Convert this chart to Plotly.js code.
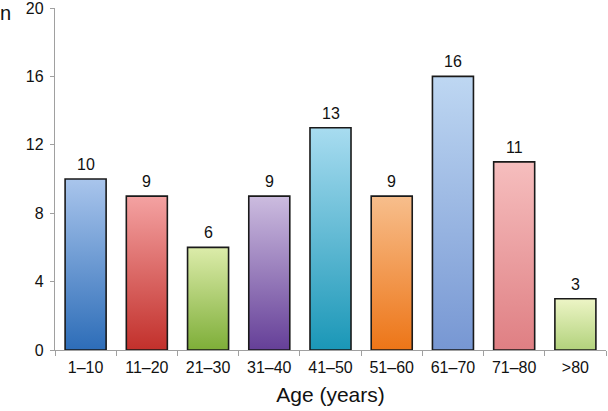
<!DOCTYPE html>
<html>
<head>
<meta charset="utf-8">
<script src="https://cdn.plot.ly/plotly-3.0.1.min.js"></script>
<style>
  html, body { margin: 0; padding: 0; background: #fff; }
  #chart { width: 608px; height: 411px; }
</style>
</head>
<body>
<div id="chart"></div>
<script>
const categories = ['1–10', '11–20', '21–30', '31–40', '41–50', '51–60', '61–70', '71–80', '>80'];
const counts = [10, 9, 6, 9, 13, 9, 16, 11, 3];
const topColors = ['#a9c5ec', '#f4a2a2', '#dcecaa', '#ccbcdf', '#a8dcf0', '#f7be8c', '#bed7f2', '#f6bebe', '#edf5c6'];
const bottomColors = ['#2d6db8', '#c2302b', '#7eae38', '#653f98', '#1a97b7', '#ed7517', '#7797d3', '#df7f83', '#b2d27c'];
const midColors = ['#6a9ad2', '#db6966', '#adcd71', '#997dbc', '#61bad4', '#f29a52', '#9bb7e3', '#eb9fa0', '#d0e4a1'];
const yTicks = [0, 4, 8, 12, 16, 20];

const FONT = 'Liberation Sans, Arial, Helvetica, sans-serif';

const trace = {
  type: 'bar',
  x: categories,
  y: counts,
  marker: {
    color: midColors,
    line: { color: '#1a1a1a', width: 1.6 }
  },
  hoverinfo: 'none'
};

const valueLabels = categories.map((c, i) => ({
  x: c,
  y: counts[i],
  xref: 'x', yref: 'y',
  text: String(counts[i]),
  showarrow: false,
  xanchor: 'center', yanchor: 'bottom',
  yshift: 4,
  font: { family: FONT, size: 16, color: '#111' }
}));

const layout = {
  width: 608,
  height: 411,
  margin: { l: 55, r: 2, t: 8, b: 61 },
  paper_bgcolor: '#fff',
  plot_bgcolor: '#fff',
  bargap: 0.33,
  showlegend: false,
  font: { family: FONT, size: 16, color: '#111' },
  xaxis: {
    type: 'category',
    showline: true,
    linecolor: '#a0a0a0',
    linewidth: 1.2,
    ticks: 'outside',
    tickson: 'boundaries',
    ticklen: 5,
    tickcolor: '#a0a0a0',
    ticklabelstandoff: 3,
    showgrid: false,
    zeroline: false,
    tickfont: { family: FONT, size: 16, color: '#111' },
    title: { text: 'Age (years)', font: { family: FONT, size: 21, color: '#111' }, standoff: 11 }
  },
  yaxis: {
    range: [yTicks[0], yTicks[yTicks.length - 1]],
    tickvals: yTicks,
    ticktext: yTicks.map(String),
    showline: true,
    linecolor: '#a0a0a0',
    linewidth: 1.2,
    ticks: 'outside',
    ticklen: 4,
    tickcolor: '#a0a0a0',
    ticklabelstandoff: 3,
    showgrid: false,
    zeroline: false,
    ticklabeloverflow: 'allow',
    tickfont: { family: FONT, size: 16, color: '#111' }
  },
  annotations: valueLabels.concat([{
    text: 'n',
    xref: 'paper', yref: 'paper',
    x: -0.09, y: 0.985,
    xanchor: 'center', yanchor: 'middle',
    showarrow: false,
    font: { family: FONT, size: 20, color: '#111' }
  }])
};

function applyGradients(gd) {
  const svg = gd.querySelector('svg.main-svg');
  if (!svg) return;
  const ns = 'http://www.w3.org/2000/svg';
  let defs = svg.querySelector('defs#bar-grads');
  if (!defs) {
    defs = document.createElementNS(ns, 'defs');
    defs.setAttribute('id', 'bar-grads');
    svg.insertBefore(defs, svg.firstChild);
    categories.forEach((c, i) => {
      const lg = document.createElementNS(ns, 'linearGradient');
      lg.setAttribute('id', 'bg' + i);
      lg.setAttribute('x1', '0'); lg.setAttribute('y1', '0');
      lg.setAttribute('x2', '0'); lg.setAttribute('y2', '1');
      const s1 = document.createElementNS(ns, 'stop');
      s1.setAttribute('offset', '0'); s1.setAttribute('stop-color', topColors[i]);
      const s2 = document.createElementNS(ns, 'stop');
      s2.setAttribute('offset', '1'); s2.setAttribute('stop-color', bottomColors[i]);
      lg.appendChild(s1); lg.appendChild(s2);
      defs.appendChild(lg);
    });
  }
  const paths = gd.querySelectorAll('.barlayer .trace .point path');
  paths.forEach((p, i) => {
    p.style.fill = 'url(#bg' + i + ')';
  });
}

const gd = document.getElementById('chart');
Plotly.newPlot(gd, [trace], layout, { displayModeBar: false, staticPlot: true }).then(() => {
  applyGradients(gd);
  gd.on('plotly_afterplot', () => applyGradients(gd));
});
</script>
</body>
</html>
